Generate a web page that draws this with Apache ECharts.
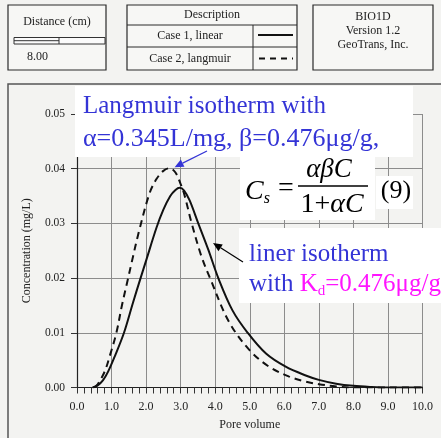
<!DOCTYPE html>
<html>
<head>
<meta charset="utf-8">
<script src="https://cdn.jsdelivr.net/npm/echarts@6/dist/echarts.min.js"></script>
<style>
  html, body { margin: 0; padding: 0; background: #f3f3f1; }
  #chart { width: 441px; height: 438px; }
</style>
</head>
<body>
<div id="chart"></div>
<script>
// Breakthrough curves, BIO1D run (pore volume vs. effluent concentration)
const linearPV   = [0.45, 0.6, 0.75, 0.9, 1.1, 1.36, 1.62, 1.84, 2.0, 2.3, 2.5, 2.7, 2.85, 2.97, 3.1, 3.26, 3.51, 3.8, 4.09, 4.5, 4.94, 5.47, 6.04, 6.62, 7.0, 7.5, 8.0, 8.5, 9.0, 10.0];
const linearConc = [0.0, 0.0004, 0.0013, 0.0029, 0.0058, 0.0100, 0.0155, 0.0200, 0.0232, 0.0292, 0.0325, 0.0350, 0.0361, 0.0365, 0.0360, 0.0342, 0.0300, 0.0252, 0.0200, 0.0141, 0.0100, 0.0062, 0.0038, 0.0022, 0.0014, 0.0007, 0.0003, 0.0001, 0.0, 0.0];

const langmuirPV   = [0.5, 0.6, 0.8, 0.95, 1.14, 1.3, 1.48, 1.58, 1.8, 2.1, 2.3, 2.5, 2.68, 2.85, 3.0, 3.11, 3.32, 3.6, 3.85, 4.4, 5.0, 5.56, 6.14, 6.6, 7.0, 7.5, 8.0, 10.0];
const langmuirConc = [0.0, 0.0006, 0.0029, 0.0058, 0.0100, 0.0150, 0.0200, 0.0228, 0.0287, 0.0355, 0.0381, 0.0396, 0.0401, 0.0393, 0.0372, 0.0352, 0.0300, 0.0240, 0.0200, 0.0120, 0.0068, 0.0038, 0.0020, 0.0011, 0.0006, 0.0002, 0.0, 0.0];

const xTickLabels = ['0.0', '1.0', '2.0', '3.0', '4.0', '5.0', '6.0', '7.0', '8.0', '9.0', '10.0'];
const yTickLabels = ['0.00', '0.01', '0.02', '0.03', '0.04', '0.05'];

const SERIF = '"Liberation Serif", "DejaVu Serif", serif';
const BLUE = '#3434d6';
const MAGENTA = '#ff14ff';

const pairs = (xs, ys) => xs.map((x, i) => [x, ys[i]]);

const chart = echarts.init(document.getElementById('chart'), null, { renderer: 'canvas' });

const gridBox = { left: 77, top: 114, width: 345.5, height: 273.5 };

chart.setOption({
  backgroundColor: '#f3f3f1',
  animation: false,
  grid: gridBox,
  xAxis: {
    type: 'value', min: 0, max: 10, interval: 1,
    name: 'Pore volume', nameLocation: 'middle', nameGap: 31,
    nameTextStyle: { fontFamily: SERIF, fontSize: 12, color: '#222' },
    axisLine: { show: true, onZero: false, lineStyle: { color: '#222', width: 1.2 } },
    axisTick: { show: true, inside: false, length: 6, lineStyle: { color: '#333' } },
    minorTick: { show: true, splitNumber: 5, length: 6, lineStyle: { color: '#333' } },
    axisLabel: {
      margin: 13, fontFamily: SERIF, fontSize: 12, color: '#222',
      formatter: v => xTickLabels[Math.round(v)]
    },
    splitLine: { show: true, lineStyle: { color: '#8c8c8c', width: 1 } }
  },
  yAxis: {
    type: 'value', min: 0, max: 0.05, interval: 0.01,
    name: 'Concentration (mg/L)', nameLocation: 'middle', nameGap: 44, nameRotate: 90,
    nameTextStyle: { fontFamily: SERIF, fontSize: 12, color: '#222' },
    axisLine: { show: true, onZero: false, lineStyle: { color: '#222', width: 1.2 } },
    axisTick: { show: true, inside: false, length: 6, lineStyle: { color: '#333' } },
    axisLabel: {
      margin: 12, fontFamily: SERIF, fontSize: 11.5, color: '#222',
      formatter: v => yTickLabels[Math.round(v * 100)]
    },
    splitLine: { show: true, lineStyle: { color: '#8c8c8c', width: 1 } }
  },
  series: [
    {
      name: 'Case 1, linear', type: 'line', data: pairs(linearPV, linearConc),
      smooth: 0.35, symbol: 'none', z: 3,
      lineStyle: { color: '#111', width: 2, type: 'solid' }
    },
    {
      name: 'Case 2, langmuir', type: 'line', data: pairs(langmuirPV, langmuirConc),
      smooth: 0.35, symbol: 'none', z: 3,
      lineStyle: { color: '#111', width: 2, type: [7, 5] }
    }
  ]
});

// peak of the Langmuir curve, used as the target of the blue callout arrow
let pk = 0;
langmuirConc.forEach((c, i) => { if (c > langmuirConc[pk]) pk = i; });
const peakPx = chart.convertToPixel({ gridIndex: 0 }, [langmuirPV[pk], langmuirConc[pk]]);

function arrow(x1, y1, x2, y2, color, head) {
  const a = Math.atan2(y2 - y1, x2 - x1);
  const hx = x2 - head * Math.cos(a), hy = y2 - head * Math.sin(a);
  const w = head * 0.45;
  return [
    { type: 'line', z: 120, shape: { x1, y1, x2: hx, y2: hy }, style: { stroke: color, lineWidth: 1.2 } },
    { type: 'polygon', z: 120, shape: { points: [[x2, y2],
        [hx + w * Math.sin(a), hy - w * Math.cos(a)],
        [hx - w * Math.sin(a), hy + w * Math.cos(a)]] }, style: { fill: color } }
  ];
}

const txt = (x, y, text, opts) => ({
  type: 'text', z: 110, x, y,
  style: Object.assign({ text, fontFamily: SERIF, fontSize: 12, fill: '#222', align: 'center', verticalAlign: 'middle' }, opts || {})
});
const rect = (x, y, w, h, style) => ({ type: 'rect', z: 100, shape: { x, y, width: w, height: h }, style });
const seg = (x1, y1, x2, y2, style) => ({ type: 'line', z: 105, shape: { x1, y1, x2, y2 }, style });

const boxStroke = { fill: '#f7f7f5', stroke: '#2a2a2a', lineWidth: 1.2 };

const elements = [
  // plot frame
  { type: 'polyline', z: 1, shape: { points: [[8, 438], [8, 84], [441, 84]] }, style: { stroke: '#555', lineWidth: 1.5, fill: null } },

  // distance box
  rect(8, 5, 98, 65, boxStroke),
  txt(57, 22, 'Distance (cm)'),
  rect(14, 37.5, 91, 6.5, { fill: '#fbfbfb', stroke: '#333', lineWidth: 1 }),
  seg(59, 37.5, 59, 44, { stroke: '#333', lineWidth: 1 }),
  seg(14, 40.7, 59, 40.7, { stroke: '#333', lineWidth: 1 }),
  txt(27, 57, '8.00', { align: 'left' }),

  // legend table
  rect(127, 5, 170, 65, boxStroke),
  seg(127, 25, 297, 25, { stroke: '#2a2a2a', lineWidth: 1 }),
  seg(127, 47, 297, 47, { stroke: '#2a2a2a', lineWidth: 1 }),
  seg(253, 25, 253, 70, { stroke: '#2a2a2a', lineWidth: 1 }),
  txt(212, 15, 'Description'),
  txt(190, 36, 'Case 1, linear'),
  txt(190, 58.5, 'Case 2, langmuir'),
  seg(258, 35, 293, 35, { stroke: '#111', lineWidth: 2 }),
  seg(259, 58.5, 293, 58.5, { stroke: '#111', lineWidth: 2, lineDash: [6, 5] }),

  // program info
  rect(313, 5, 120, 65, boxStroke),
  txt(373, 17, 'BIO1D'),
  txt(373, 31, 'Version 1.2'),
  txt(373, 45, 'GeoTrans, Inc.'),

  // callout boxes
  rect(75, 86, 338, 71, { fill: '#ffffff' }),
  rect(240, 157, 135, 63, { fill: '#ffffff' }),
  rect(376, 176, 37, 33, { fill: '#ffffff' }),
  rect(239, 228, 202, 75, { fill: '#ffffff' }),

  txt(83, 106, 'Langmuir isotherm with', { align: 'left', fontSize: 25, fill: BLUE }),
  txt(83, 139, 'α=0.345L/mg, β=0.476μg/g,', { align: 'left', fontSize: 26, fill: BLUE }),

  // C_s = αβC / (1 + αC)   (9)
  txt(245, 192, '{c|C}{s|s}', {
    align: 'left', rich: {
      c: { fontFamily: SERIF, fontSize: 28, fontStyle: 'italic', fill: '#000', lineHeight: 30 },
      s: { fontFamily: SERIF, fontSize: 16, fontStyle: 'italic', fill: '#000', lineHeight: 14, verticalAlign: 'bottom' }
    }
  }),
  txt(286, 189, '=', { fontSize: 28, fill: '#000' }),
  txt(329, 170, 'αβC', { fontSize: 27, fontStyle: 'italic', fill: '#000' }),
  seg(298, 186, 368, 186, { stroke: '#000', lineWidth: 1.3 }),
  txt(332, 205, '{n|1+}{i|αC}', {
    rich: {
      n: { fontFamily: SERIF, fontSize: 28, fill: '#000' },
      i: { fontFamily: SERIF, fontSize: 28, fontStyle: 'italic', fill: '#000' }
    }
  }),
  txt(396, 191, '(9)', { fontSize: 26, fill: '#000' }),

  txt(249, 254, 'liner isotherm', { align: 'left', fontSize: 25, fill: BLUE }),
  txt(249, 284, '{b|with }{m|K}{d|d}{m|=0.476μg/g}', {
    align: 'left', rich: {
      b: { fontFamily: SERIF, fontSize: 25, fill: BLUE, lineHeight: 30 },
      m: { fontFamily: SERIF, fontSize: 25, fill: MAGENTA, lineHeight: 30 },
      d: { fontFamily: SERIF, fontSize: 15, fill: MAGENTA, lineHeight: 14, verticalAlign: 'bottom' }
    }
  })
];

elements.push(...arrow(207, 151, peakPx[0] + 5, peakPx[1] - 1, BLUE, 9));
elements.push(...arrow(243, 262, 213, 243, '#000', 9));

chart.setOption({ graphic: { elements } });
</script>
</body>
</html>
